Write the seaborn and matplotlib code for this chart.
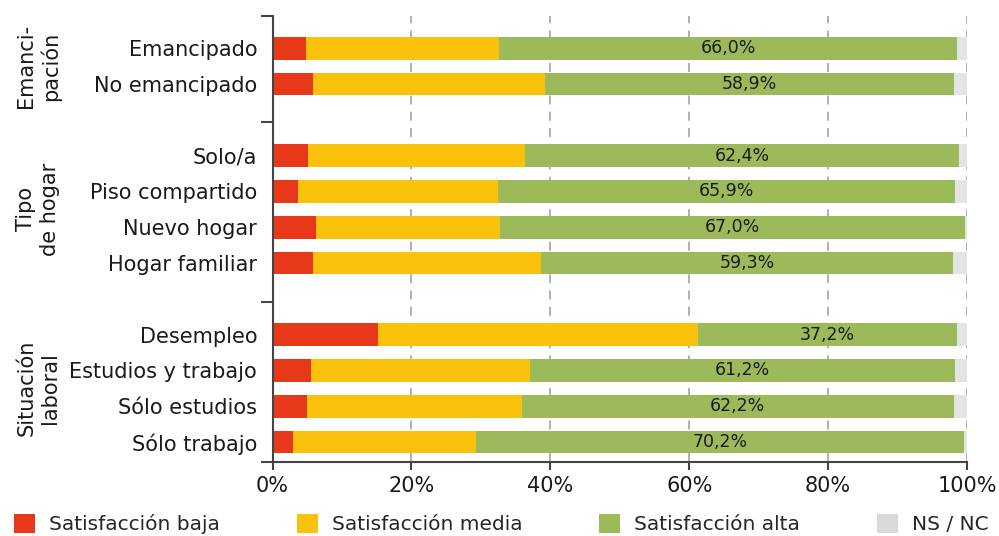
import matplotlib
matplotlib.use("Agg")
import matplotlib.pyplot as plt
import matplotlib.transforms as mtransforms
from matplotlib.patches import Patch
import seaborn as sns
import pandas as pd

# ---- data ----
categories = ["Emancipado", "No emancipado", "Solo/a", "Piso compartido", "Nuevo hogar",
              "Hogar familiar", "Desempleo", "Estudios y trabajo", "Sólo estudios", "Sólo trabajo"]
group_labels = ["Emanci-\npación", "Tipo\nde hogar", "Situación\nlaboral"]
group_members = [categories[0:2], categories[2:6], categories[6:10]]
baja = [4.8, 5.8, 5.1, 3.6, 6.2, 5.8, 15.2, 5.5, 4.9, 2.9]
media = [27.8, 33.4, 31.3, 28.8, 26.5, 32.9, 46.1, 31.6, 31.0, 26.4]
alta = [66.0, 58.9, 62.4, 65.9, 67.0, 59.3, 37.2, 61.2, 62.2, 70.2]
nsnc = [1.4, 1.9, 1.2, 1.7, 0.3, 2.0, 1.5, 1.7, 1.9, 0.5]
series_names = ["Satisfacción baja", "Satisfacción media", "Satisfacción alta", "NS / NC"]
colors = ["#E8381A", "#FBC20D", "#9DBA5B", "#E4E4E4"]
legend_colors = ["#E8381A", "#FBC20D", "#9DBA5B", "#D9D9D9"]
xticks = [0, 20, 40, 60, 80, 100]
xtick_labels = ["0%", "20%", "40%", "60%", "80%", "100%"]

sns.set_style("white")
plt.rcParams["font.family"] = ["DejaVu Sans"]

df = pd.DataFrame({"cat": categories, "baja": baja, "media": media, "alta": alta, "nsnc": nsnc})
df["c1"] = df["baja"]
df["c2"] = df["c1"] + df["media"]
df["c3"] = df["c2"] + df["alta"]
df["c4"] = df["c3"] + df["nsnc"]

order = group_members[0] + [" "] + group_members[1] + ["  "] + group_members[2]

fig = plt.figure(figsize=(9.99, 5.36), dpi=100)
ax = fig.add_axes([272.5 / 999, 1 - 462 / 536, (967 - 272.5) / 999, (462 - 16) / 536])

for col, color in zip(["c4", "c3", "c2", "c1"], colors[::-1]):
    sns.barplot(data=df, x=col, y="cat", order=order, orient="h", color=color,
                width=0.64, errorbar=None, linewidth=0, edgecolor="none", ax=ax,
                saturation=1)

# value labels on the high-satisfaction segment
pos = {c: i for i, c in enumerate(order)}
for _, r in df.iterrows():
    xc = r["c2"] + r["alta"] / 2
    ax.text(xc, pos[r["cat"]], f"{r['alta']:.1f}%".replace(".", ","), ha="center",
            va="center", fontsize=12.5, color="#1a1a1a")

ax.set_xlim(0, 100)
ax.set_ylim(11.56, -0.9)
ax.set_xticks(xticks)
ax.set_xticklabels(xtick_labels, fontsize=15, color="#1a1a1a")
ax.set_yticks(range(len(order)))
ax.set_yticklabels(order, fontsize=15, color="#1a1a1a")
ax.set_xlabel("")
ax.set_ylabel("")
ax.tick_params(axis="y", which="major", left=True, length=0, pad=11)
ax.set_yticks([-0.9, 2.05, 7.1, 11.56], minor=True)
ax.tick_params(axis="y", which="minor", left=True, length=9, width=1.5, color="#444444")
ax.tick_params(axis="x", which="major", bottom=True, length=6, width=1.5, color="#444444", pad=4)

ax.set_axisbelow(True)
ax.xaxis.grid(True, linestyle=(0, (5, 4)), color="#AAAAAA", linewidth=1.3)
ax.yaxis.grid(False)
for s in ["top", "right"]:
    ax.spines[s].set_visible(False)
for s in ["left", "bottom"]:
    ax.spines[s].set_color("#444444")
    ax.spines[s].set_linewidth(1.5)

trans = mtransforms.blended_transform_factory(ax.transAxes, ax.transData)
for lab, members in zip(group_labels, group_members):
    yc = (pos[members[0]] + pos[members[-1]]) / 2
    ax.text(-0.337, yc, lab, rotation=90, ha="center", va="center", fontsize=15,
            color="#1a1a1a", multialignment="center", linespacing=1.25, transform=trans)

handles = [Patch(facecolor=c, edgecolor="none") for c in legend_colors]
fig.legend(handles, series_names, loc="center left", bbox_to_anchor=(14 / 999, 12 / 536),
           ncol=4, frameon=False, fontsize=14.5, handlelength=1.05, handleheight=1.1,
           handletextpad=0.7, columnspacing=3.8, borderpad=0, borderaxespad=0)

fig.savefig("out.png", dpi=100)
